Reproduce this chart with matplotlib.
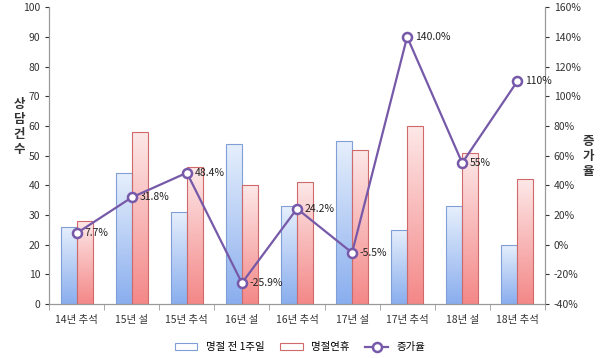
import numpy as np
import matplotlib
matplotlib.use("Agg")
import matplotlib.pyplot as plt
from matplotlib.colors import LinearSegmentedColormap
from matplotlib.ticker import FuncFormatter

plt.rcParams['font.family'] = ['Noto Sans CJK KR', 'DejaVu Sans']

categories = ["14년 추석", "15년 설", "15년 추석", "16년 설", "16년 추석",
              "17년 설", "17년 추석", "18년 설", "18년 추석"]
before = [26, 44, 31, 54, 33, 55, 25, 33, 20]
holiday = [28, 58, 46, 40, 41, 52, 60, 51, 42]
rate = [7.7, 31.8, 48.4, -25.9, 24.2, -5.5, 140.0, 55, 110]
rate_labels = ["7.7%", "31.8%", "48.4%", "-25.9%", "24.2%", "-5.5%", "140.0%", "55%", "110%"]
series_names = ["명절 전 1주일", "명절연휴", "증가율"]

fig = plt.figure(figsize=(6, 3.58), dpi=100)
ax = fig.add_axes([0.082, 0.151, 0.826, 0.829])
ax2 = ax.twinx()

x = np.arange(len(categories))
w = 0.29

blue_cmap = LinearSegmentedColormap.from_list("b", ["#e6effc", "#8aaeee"])
red_cmap = LinearSegmentedColormap.from_list("r", ["#fde8e8", "#f48888"])
grad = np.linspace(0, 1, 100).reshape(-1, 1)


def gradient_bars(xs, vals, cmap, edge, label):
    bars = ax.bar(xs, vals, w, color="none", edgecolor=edge, linewidth=0.8,
                  label=label, zorder=3)
    for b in bars:
        im = ax.imshow(grad, cmap=cmap, aspect="auto", zorder=2,
                       extent=[b.get_x(), b.get_x() + b.get_width(), 0, b.get_height()],
                       origin="upper")
        im.set_clip_path(b)
    return bars


b1 = gradient_bars(x - w / 2, before, blue_cmap, "#7f9fd6", series_names[0])
b2 = gradient_bars(x + w / 2, holiday, red_cmap, "#d06a6a", series_names[1])
ax.set_xlim(-0.5, len(categories) - 0.5)
ax.set_ylim(0, 100)
ax.set_yticks(range(0, 101, 10))

ln, = ax2.plot(x, rate, color="#7659a8", lw=1.6, marker="o", ms=6.5,
               mfc="white", mec="#7659a8", mew=1.8, label=series_names[2], zorder=5)
ax2.set_ylim(-40, 160)
ax2.set_yticks(range(-40, 161, 20))
ax2.yaxis.set_major_formatter(FuncFormatter(lambda v, p: f"{v:.0f}%"))
for xi, r, lab in zip(x, rate, rate_labels):
    ax2.text(xi + 0.14, r, lab, fontsize=7.5, va="center", ha="left", color="#222222")

for a in (ax, ax2):
    a.spines["top"].set_visible(False)
    for s in ("left", "right", "bottom"):
        a.spines[s].set_color("#999999")
    a.tick_params(colors="#333333", labelsize=7.5, length=3)
ax.set_xticks(x)
ax.set_xticklabels(categories, fontsize=7.5)
ax.tick_params(axis="x", length=0, pad=8)
ax.set_xticks(np.arange(-0.5, len(categories), 1), minor=True)
ax.tick_params(axis="x", which="minor", length=4, color="#999999")
ax.set_zorder(ax2.get_zorder() - 1)
ax.patch.set_visible(False)

fig.text(0.032, 0.645, "상\n담\n건\n수", fontsize=9, fontweight="bold",
         ha="center", va="center", linespacing=1.2, color="#333333")
fig.text(0.98, 0.564, "증\n가\n율", fontsize=9, fontweight="bold",
         ha="center", va="center", linespacing=1.2, color="#333333")

fig.legend(handles=[b1, b2, ln], labels=series_names, loc="lower center",
           bbox_to_anchor=(0.5, -0.01), ncol=3, frameon=False, fontsize=7.5,
           handlelength=2.2, columnspacing=1.5)

fig.savefig("out.png", dpi=100)
